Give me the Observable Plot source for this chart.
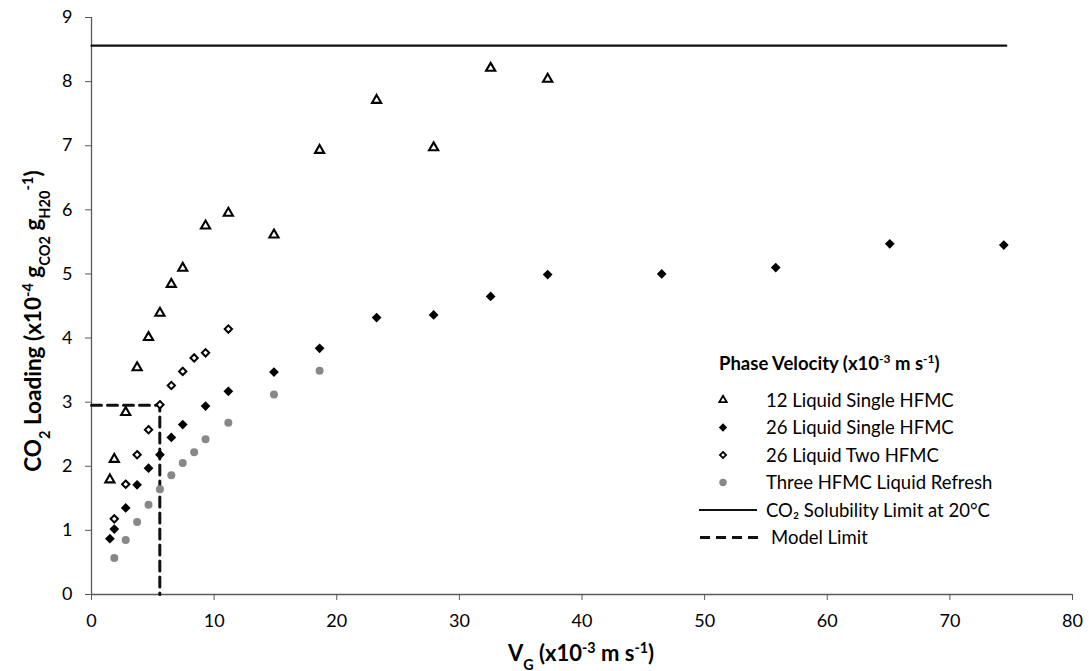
<!DOCTYPE html>
<html><head><meta charset="utf-8">
<script src="https://cdn.jsdelivr.net/npm/d3@7"></script>
<script src="https://cdn.jsdelivr.net/npm/@observablehq/plot@0.6"></script>
<style>
html,body{margin:0;padding:0;background:#fff}
#wrap{position:relative;width:1089px;height:671px}
</style></head><body><div id="wrap"></div>
<script>
// ---- data ----
const xTri  = [1.5,1.86,2.79,3.72,4.65,5.58,6.51,7.44,9.3,11.16,14.88,18.6,23.25,27.9,32.55,37.2];
const yTri  = [1.79,2.11,2.84,3.54,4.01,4.39,4.84,5.09,5.75,5.95,5.61,6.93,7.71,6.97,8.21,8.04];
const xFill = [1.5,1.86,2.79,3.72,4.65,5.58,6.51,7.44,9.3,11.16,14.88,18.6,23.25,27.9,32.55,37.2,46.5,55.8,65.1,74.4];
const yFill = [0.87,1.02,1.35,1.71,1.97,2.18,2.45,2.65,2.94,3.17,3.47,3.84,4.32,4.36,4.65,4.99,5.0,5.10,5.47,5.45];
const xOpen = [1.86,2.79,3.72,4.65,5.58,6.51,7.44,8.37,9.3,11.16];
const yOpen = [1.18,1.72,2.18,2.57,2.96,3.26,3.48,3.69,3.77,4.14];
const xGray = [1.86,2.79,3.72,4.65,5.58,6.51,7.44,8.37,9.3,11.16,14.88,18.6];
const yGray = [0.57,0.85,1.13,1.40,1.64,1.86,2.05,2.22,2.42,2.68,3.12,3.49];
const solX = [0, 74.6];
const solY = [8.56, 8.56];
const modelX = [0, 5.57, 5.57];
const modelY = [2.95, 2.95, 0];
const xTicks = [0,10,20,30,40,50,60,70,80];
const yTicks = [0,1,2,3,4,5,6,7,8,9];
const seriesNames = ["12 Liquid Single HFMC","26 Liquid Single HFMC","26 Liquid Two HFMC","Three HFMC Liquid Refresh","CO₂ Solubility Limit at 20°C","Model Limit"];

const zip = (xs, ys) => xs.map((x, i) => ({x, y: ys[i]}));
const FONT = "Lato, 'Open Sans', sans-serif";
const AXIS = "#5a5a5a";

const svg = Plot.plot({
  width: 1089, height: 671,
  marginLeft: 91, marginRight: 17, marginTop: 17, marginBottom: 77,
  style: {fontFamily: FONT, fontSize: "18px", color: "#000", background: "#fff"},
  x: {domain: [0, 80]},
  y: {domain: [0, 9]},
  marks: [
    Plot.axisX({ticks: xTicks, tickSize: 6, tickPadding: 14, stroke: AXIS, label: null, fontSize: 18}),
    Plot.axisY({ticks: yTicks, tickSize: 6, tickPadding: 13, stroke: AXIS, label: null, fontSize: 18}),
    Plot.ruleY([0], {stroke: AXIS, strokeWidth: 1.3}),
    Plot.ruleX([0], {stroke: AXIS, strokeWidth: 1.3}),
    Plot.line(zip(solX, solY), {x: "x", y: "y", stroke: "#111", strokeWidth: 2.2}),
    Plot.line(zip(modelX, modelY), {x: "x", y: "y", stroke: "#111", strokeWidth: 3, strokeDasharray: "10,6"}),
    Plot.dot(zip(xGray, yGray), {x: "x", y: "y", symbol: "circle", r: 4, fill: "#888", stroke: "none"}),
    Plot.dot(zip(xOpen, yOpen), {x: "x", y: "y", symbol: "diamond2", r: 3.3, fill: "#fff", stroke: "#000", strokeWidth: 2}),
    Plot.dot(zip(xFill, yFill), {x: "x", y: "y", symbol: "diamond2", r: 4.4, fill: "#000", stroke: "none"}),
    Plot.dot(zip(xTri, yTri), {x: "x", y: "y", symbol: "triangle", r: 3.4, fill: "#fff", stroke: "#000", strokeWidth: 2.1})
  ]
});
document.getElementById("wrap").appendChild(svg);

const s = d3.select(svg);
function rich(sel, parts) {
  for (const [t, k] of parts) {
    const ts = sel.append("tspan").text(t);
    if (k === "sup") ts.attr("baseline-shift", "super").attr("font-size", "65%");
    if (k === "sub") ts.attr("baseline-shift", "sub").attr("font-size", "65%");
  }
}
// x axis title
const xt = s.append("text").attr("x", 581).attr("y", 661).attr("text-anchor", "middle")
  .attr("font-family", FONT).attr("font-size", 22).attr("font-weight", "bold").attr("fill", "#000");
rich(xt, [["V", "n"], ["G", "sub"], [" (x10", "n"], ["-3", "sup"], [" m s", "n"], ["-1", "sup"], [")", "n"]]);
// y axis title
const yt = s.append("text").attr("transform", "translate(41,321) rotate(-90)").attr("text-anchor", "middle")
  .attr("font-family", FONT).attr("font-size", 22.5).attr("font-weight", "bold").attr("fill", "#000");
rich(yt, [["CO", "n"], ["2", "sub"], [" Loading (x10", "n"], ["-4", "sup"], [" g", "n"], ["CO2", "sub"], [" g", "n"], ["H20", "sub"], ["-1", "sup"], [")", "n"]]);

// legend
const lg = s.append("g").attr("font-family", FONT).attr("fill", "#000").attr("text-anchor", "start");
const lt = lg.append("text").attr("x", 719).attr("y", 370).attr("font-size", 18.5).attr("font-weight", "bold");
rich(lt, [["Phase Velocity (x10", "n"], ["-3", "sup"], [" m s", "n"], ["-1", "sup"], [")", "n"]]);
const rowY = i => 400 + 27.5 * i;
const sym = (type, size) => d3.symbol(type, size)();
lg.append("path").attr("d", sym(d3.symbolTriangle, 24)).attr("transform", `translate(723,${rowY(0)})`).attr("fill", "#fff").attr("stroke", "#000").attr("stroke-width", 1.8);
lg.append("path").attr("d", sym(d3.symbolDiamond2, 44)).attr("transform", `translate(723,${rowY(1)})`).attr("fill", "#000");
lg.append("path").attr("d", sym(d3.symbolDiamond2, 24)).attr("transform", `translate(723,${rowY(2)})`).attr("fill", "#fff").attr("stroke", "#000").attr("stroke-width", 1.8);
lg.append("circle").attr("cx", 723).attr("cy", rowY(3)).attr("r", 3.7).attr("fill", "#888");
lg.append("line").attr("x1", 699).attr("x2", 757).attr("y1", rowY(4)).attr("y2", rowY(4)).attr("stroke", "#111").attr("stroke-width", 2.2);
lg.append("line").attr("x1", 700).attr("x2", 758).attr("y1", rowY(5)).attr("y2", rowY(5)).attr("stroke", "#111").attr("stroke-width", 3).attr("stroke-dasharray", "10,6");
seriesNames.forEach((n, i) => {
  lg.append("text").attr("x", i === 5 ? 771 : 766).attr("y", rowY(i) + 6.5).attr("font-size", 18.5).text(n);
});
</script></body></html>
